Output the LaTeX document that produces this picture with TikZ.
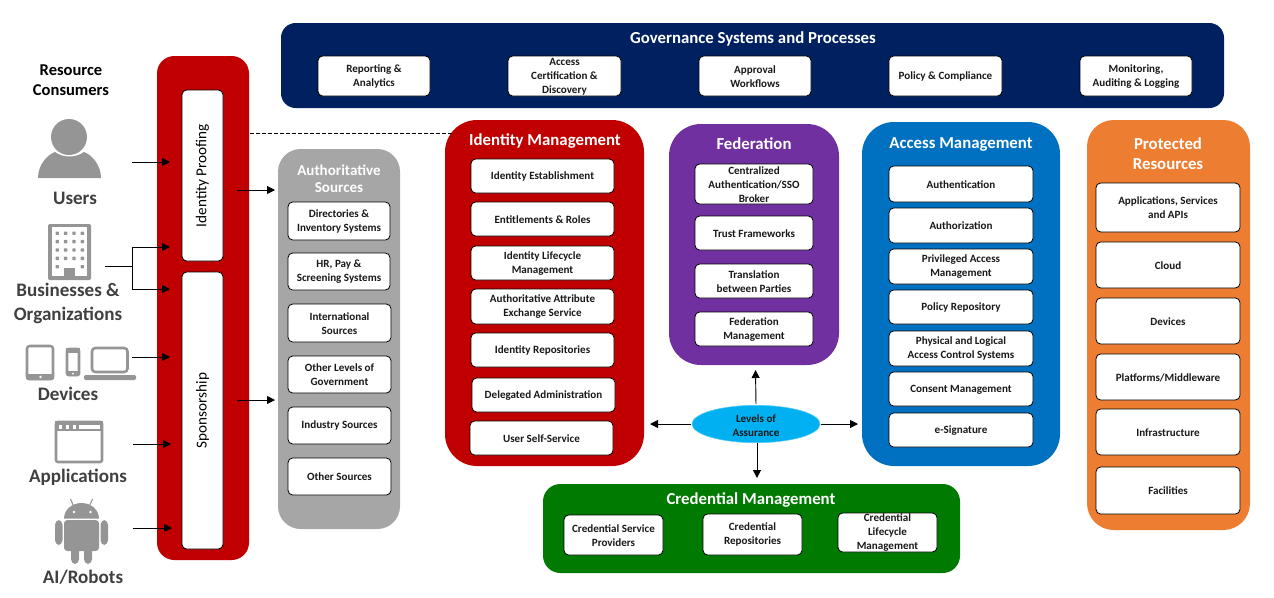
\documentclass[tikz,border=0pt]{standalone}
\usepackage{fontspec}
\setmainfont{Carlito}
\usetikzlibrary{arrows.meta,shapes.geometric}
\definecolor{navyc}{HTML}{002060}
\definecolor{redc}{HTML}{C00000}
\definecolor{grayc}{HTML}{A6A6A6}
\definecolor{purplec}{HTML}{7030A0}
\definecolor{bluec}{HTML}{0070C0}
\definecolor{orangec}{HTML}{ED7D31}
\definecolor{greenc}{HTML}{007A00}
\definecolor{skyc}{HTML}{00B0F0}
\definecolor{iconc}{HTML}{959595}
\definecolor{labelc}{HTML}{404040}
\tikzset{
  x=0.75pt,y=-0.75pt,
  panel/.style={rounded corners=#1,inner sep=0pt},
  item/.style={draw=black,line width=0.6pt,fill=white,rounded corners=3.5pt,inner sep=0pt,align=center,
     font=\bfseries\fontsize{8.3}{10.4}\selectfont,text=black!90},
  vitem/.style={item,rotate=90,font=\fontsize{11.4}{13}\selectfont,text=black},
  paneltitle/.style={text=white,font=\bfseries\fontsize{12.6}{15.2}\selectfont,align=center,inner sep=0pt},
  consumer/.style={text=labelc,font=\bfseries\fontsize{14.3}{18}\selectfont,align=center,inner sep=0pt},
  flow/.style={-{Triangle[length=6pt,width=6pt]},line width=0.7pt,black},
  plain/.style={line width=0.7pt,black},
  icon/.style={fill=iconc,draw=none},
  iconline/.style={draw=iconc,fill=white,line width=1.9pt,rounded corners=1.5pt},
}
% \bx[style]{name}{x1}{y1}{x2}{y2}{text}
\newcommand{\bx}[7][item]{%
  \pgfmathsetmacro{\bxcx}{(#3+#5)/2}\pgfmathsetmacro{\bxcy}{(#4+#6)/2}%
  \pgfmathsetlengthmacro{\bxw}{(#5-#3)*0.75pt}\pgfmathsetlengthmacro{\bxh}{(#6-#4)*0.75pt}%
  \node[#1,minimum width=\bxw,minimum height=\bxh] (#2) at (\bxcx,\bxcy) {\rule{0pt}{6.4pt}#7};}
\begin{document}
\begin{tikzpicture}
\useasboundingbox (0,0) rectangle (1274,597);
% panels
\bx[panel=11pt,fill=navyc]{gov}{281}{23}{1224}{108}{}
\bx[panel=13pt,fill=redc]{consumerbar}{157}{56}{249}{560}{}
\bx[panel=17pt,fill=grayc]{auth}{278}{149}{400}{529}{}
\bx[panel=24pt,fill=redc]{idm}{445}{120}{644}{466}{}
\bx[panel=24pt,fill=purplec]{fed}{669}{124}{839}{365}{}
\bx[panel=24pt,fill=bluec]{acc}{862}{122}{1060}{466}{}
\bx[panel=20pt,fill=orangec]{prot}{1087}{120}{1250}{530}{}
\bx[panel=13pt,fill=greenc]{cred}{543}{484}{960}{573}{}
% titles
\node[paneltitle] (govt) at (753,38.5) {Governance Systems and Processes};
\node[paneltitle,font=\bfseries\fontsize{11.3}{12.8}\selectfont] (autht) at (339,179) {Authoritative\\Sources};
\node[paneltitle] (idmt) at (545,141.5) {Identity Management};
\node[paneltitle] (fedt) at (754,143.5) {Federation};
\node[paneltitle] (acct) at (961,144.5) {Access Management};
\node[paneltitle] (prott) at (1168,154) {Protected\\Resources};
\node[paneltitle] (credt) at (751,500) {Credential Management};
% governance
\bx{g1}{318}{56}{430}{96}{Reporting \&\\Analytics}
\bx{g2}{508}{56}{621}{96}{Access\\Certification \&\\Discovery}
\bx{g3}{699}{56}{811}{96}{Approval\\Workflows}
\bx{g4}{889}{56}{1002}{96}{Policy \& Compliance}
\bx{g5}{1080}{56}{1192}{96}{Monitoring,\\Auditing \& Logging}
% proofing / sponsorship
\node[vitem,minimum width=128.25pt,minimum height=30.75pt] (proof) at (202.5,175.5) {Identity Proofing};
\node[vitem,minimum width=207.75pt,minimum height=30.75pt] (spons) at (202.5,410.5) {Sponsorship};
% authoritative
\bx{a1}{288}{202}{390}{240}{Directories \&\\Inventory Systems}
\bx{a2}{288}{253}{390}{290}{HR, Pay \&\\Screening Systems}
\bx{a3}{288}{304}{391}{342}{International\\Sources}
\bx{a4}{288}{356}{391}{393}{Other Levels of\\Government}
\bx{a5}{288}{407}{391}{444}{Industry Sources}
\bx{a6}{288}{458}{391}{495}{Other Sources}
% identity management
\bx{i1}{471}{159}{614}{193}{Identity Establishment}
\bx{i2}{471}{202}{614}{236}{Entitlements \& Roles}
\bx{i3}{471}{246}{614}{280}{Identity Lifecycle\\Management}
\bx{i4}{471}{289}{614}{324}{Authoritative Attribute\\Exchange Service}
\bx{i5}{471}{333}{614}{367}{Identity Repositories}
\bx{i6}{472}{378}{615}{412}{Delegated Administration}
\bx{i7}{470}{421}{613}{455}{User Self-Service}
% federation
\bx{f1}{695}{164}{813}{204}{Centralized\\Authentication/SSO\\Broker}
\bx{f2}{695}{216}{813}{250}{Trust Frameworks}
\bx{f3}{695}{264}{813}{298}{Translation\\between Parties}
\bx{f4}{695}{312}{813}{346}{Federation\\Management}
% access
\bx{m1}{889}{166}{1033}{202}{Authentication}
\bx{m2}{889}{208}{1033}{243}{Authorization}
\bx{m3}{889}{249}{1033}{284}{Privileged Access\\Management}
\bx{m4}{889}{290}{1033}{324}{Policy Repository}
\bx{m5}{889}{331}{1033}{366}{Physical and Logical\\Access Control Systems}
\bx{m6}{889}{372}{1033}{406}{Consent Management}
\bx{m7}{889}{413}{1033}{447}{e-Signature}
% protected
\bx{p1}{1096}{183}{1240}{232}{Applications, Services\\and APIs}
\bx{p2}{1096}{242}{1240}{288}{Cloud}
\bx{p3}{1096}{298}{1240}{344}{Devices}
\bx{p4}{1096}{354}{1240}{400}{Platforms/Middleware}
\bx{p5}{1096}{409}{1240}{455}{Infrastructure}
\bx{p6}{1096}{467}{1240}{514}{Facilities}
% credential
\bx{c1}{564}{515}{663}{555}{Credential Service\\Providers}
\bx{c2}{703}{514}{802}{555}{Credential\\Repositories}
\bx{c3}{838}{513}{937}{552}{Credential\\Lifecycle\\Management}
% levels of assurance
\node[ellipse,fill=skyc,draw=skyc!70!white,line width=0.4pt,minimum width=96pt,minimum height=28pt,inner sep=0pt,align=center,
  font=\bfseries\fontsize{8.3}{10.5}\selectfont,text=black!90] (loa) at (756,424) {\rule{0pt}{8pt}Levels of\\Assurance};
% consumer labels
\node[consumer,text=black,font=\bfseries\fontsize{12.4}{15}\selectfont] (rc) at (71,80) {Resource\\Consumers};
\node[consumer] (users) at (75,198.5) {Users};
\node[consumer] (biz) at (68,303.5) {Businesses \&\\Organizations};
\node[consumer] (dev) at (68,393.5) {Devices};
\node[consumer] (apps) at (78,477) {Applications};
\node[consumer] (ai) at (83,577.5) {AI/Robots};
% icons: user
\fill[icon] (69,137) circle (18);
\fill[icon] (38,178) .. controls (38,165) and (47,155) .. (55,152) .. controls (63,158) and (76,158) .. (84,152) .. controls (92,155) and (101,165) .. (101,178) -- cycle;
% building
\fill[icon,rounded corners=1pt] (48,224) rectangle (91,280);
\fill[white] (52,227) rectangle (87,276);
\foreach \r in {0,1,2,3}{\foreach \c in {0,1,2,3}{\fill[icon,rounded corners=0.5pt] (55.5+\c*8.4,231.5+\r*8.4) rectangle +(3.4,3.4);}}
\fill[icon,rounded corners=0.5pt] (55.5,265) rectangle +(3.4,3.4);
\fill[icon,rounded corners=0.5pt] (80.7,265) rectangle +(3.4,3.4);
\fill[icon] (64,268) rectangle (75,280);
% tablet
\draw[iconline,rounded corners=2pt] (27,346) rectangle (53,379);
\fill[icon,rounded corners=1pt] (26,374) rectangle (54,380);
\fill[white] (40.5,377) circle (1.4);
% phone
\draw[iconline] (67,349) rectangle (79,375);
\fill[icon] (66,348) rectangle (80,353);
\fill[icon,rounded corners=1pt] (66,371) rectangle (80,376);
\fill[white] (73,373.5) circle (1);
% laptop
\draw[iconline,rounded corners=2.5pt] (92,348) rectangle (127.5,372);
\fill[icon,rounded corners=1pt] (84,375) rectangle (136,380);
% application window
\draw[iconline] (56,422) rectangle (102,462);
\fill[icon] (55,421) rectangle (103,431);
\fill[white] (58.5,425) rectangle (62,428.5);
\fill[white] (65.5,425) rectangle (69,428.5);
\fill[white] (72.5,425) rectangle (76,428.5);
\fill[white] (79,425) rectangle (99.5,428.5);
% android
\fill[icon] (64,518.5) arc[start angle=180,end angle=360,x radius=17.5,y radius=15.5] -- cycle;
\draw[iconc,line width=0.8pt] (74,507) -- (70.5,499);
\draw[iconc,line width=0.8pt] (89,507) -- (92.5,499);
\fill[white] (74,512) circle (1.4);
\fill[white] (90.5,512) circle (1.4);
\fill[icon,rounded corners=2.5pt] (64,520) rectangle (99,551);
\fill[icon,rounded corners=3.5pt] (55,520) rectangle (62.5,545);
\fill[icon,rounded corners=3.5pt] (100.5,520) rectangle (108,545);
\fill[icon,rounded corners=3.5pt] (71,542) rectangle (79,564);
\fill[icon,rounded corners=3.5pt] (84,542) rectangle (92,564);
% free ends
\coordinate (uS) at (132,162); \coordinate (uE) at (170,162);
\coordinate (bS) at (105,266); \coordinate (bJ) at (132,266);
\coordinate (bT) at (132,247); \coordinate (bTe) at (170,247);
\coordinate (bB) at (132,289); \coordinate (bBe) at (170,289);
\coordinate (dS) at (132,357); \coordinate (dE) at (170,357);
\coordinate (apS) at (133,444); \coordinate (apE) at (171,444);
\coordinate (aiS) at (133,528); \coordinate (aiE) at (172,528);
\coordinate (prS) at (237,190); \coordinate (prE) at (275,190);
\coordinate (spS) at (237,400); \coordinate (spE) at (275,400);
\coordinate (daS) at (250,133); \coordinate (daE) at (452,133);
\coordinate (lu) at (755.5,370); \coordinate (ll) at (650,424);
\coordinate (lr) at (858,424); \coordinate (ld) at (757,478);
% connectors
\draw[flow] (uS) -- (uE);
\draw[plain] (bS) -- (bJ);
\draw[flow] (bTe-|bJ) -- (bTe);
\draw[flow] (bBe-|bJ) -- (bBe);
\draw[plain] (bT) -- (bB);
\draw[flow] (dS) -- (dE);
\draw[flow] (apS) -- (apE);
\draw[flow] (aiS) -- (aiE);
\draw[flow] (prS) -- (prE);
\draw[flow] (spS) -- (spE);
\draw[line width=0.5pt,black,dash pattern=on 3pt off 1.5pt] (daS) -- (daE);
\draw[flow] (loa.north) ++(0,-1) -- (lu);
\draw[flow] (loa.west) ++(-1,0) -- (ll);
\draw[flow] (loa.east) ++(1,0) -- (lr);
\draw[flow] (loa.south) ++(1,0) -- (ld);
\end{tikzpicture}
\end{document}
